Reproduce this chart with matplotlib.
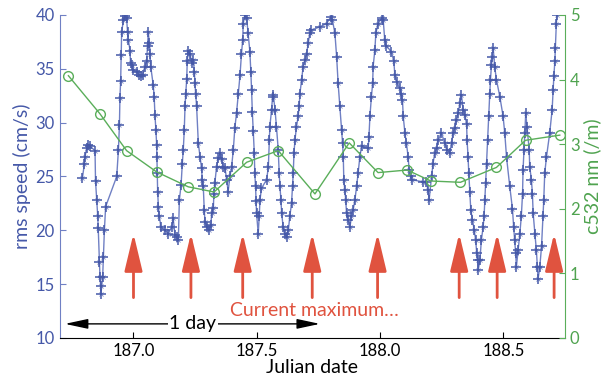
import matplotlib
matplotlib.use("Agg")
import matplotlib.pyplot as plt

plt.rcParams['font.family'] = ['Lato', 'DejaVu Sans']

# rms speed (cm/s) vs Julian date
speed_date = [
    186.793, 186.801, 186.803, 186.810, 186.817, 186.824, 186.844, 186.846, 186.851, 186.855,
    186.857, 186.862, 186.864, 186.867, 186.868, 186.875, 186.878, 186.882, 186.887, 186.932,
    186.939, 186.943, 186.945, 186.948, 186.950, 186.952, 186.959, 186.966, 186.972, 186.976,
    186.979, 186.986, 186.988, 186.993, 186.999, 187.013, 187.024, 187.030, 187.037, 187.047,
    187.053, 187.057, 187.060, 187.064, 187.067, 187.070, 187.080, 187.084, 187.087, 187.091,
    187.094, 187.095, 187.096, 187.098, 187.101, 187.105, 187.111, 187.128, 187.141, 187.155,
    187.161, 187.168, 187.175, 187.182, 187.186, 187.193, 187.198, 187.202, 187.206, 187.209,
    187.212, 187.216, 187.218, 187.222, 187.229, 187.236, 187.243, 187.247, 187.249, 187.252,
    187.256, 187.263, 187.270, 187.276, 187.279, 187.283, 187.287, 187.290, 187.297, 187.307,
    187.314, 187.317, 187.324, 187.326, 187.330, 187.337, 187.344, 187.351, 187.357, 187.364,
    187.371, 187.378, 187.384, 187.391, 187.398, 187.405, 187.411, 187.418, 187.425, 187.432,
    187.438, 187.443, 187.445, 187.452, 187.459, 187.465, 187.472, 187.476, 187.479, 187.482,
    187.486, 187.490, 187.492, 187.495, 187.497, 187.499, 187.506, 187.510, 187.513, 187.519,
    187.540, 187.547, 187.551, 187.553, 187.560, 187.564, 187.567, 187.574, 187.580, 187.587,
    187.591, 187.594, 187.598, 187.601, 187.607, 187.614, 187.621, 187.628, 187.634, 187.641,
    187.645, 187.648, 187.651, 187.655, 187.661, 187.668, 187.672, 187.675, 187.682, 187.688,
    187.695, 187.702, 187.709, 187.715, 187.722, 187.756, 187.783, 187.801, 187.807, 187.817,
    187.824, 187.830, 187.837, 187.844, 187.848, 187.851, 187.853, 187.857, 187.861, 187.864,
    187.871, 187.878, 187.884, 187.891, 187.898, 187.905, 187.911, 187.918, 187.925, 187.952,
    187.955, 187.959, 187.965, 187.970, 187.972, 187.979, 187.983, 187.992, 188.006, 188.013,
    188.019, 188.026, 188.046, 188.056, 188.060, 188.067, 188.080, 188.087, 188.091, 188.094,
    188.101, 188.107, 188.114, 188.118, 188.124, 188.128, 188.175, 188.188, 188.195, 188.199,
    188.209, 188.215, 188.222, 188.229, 188.236, 188.249, 188.263, 188.272, 188.283, 188.290,
    188.296, 188.303, 188.310, 188.317, 188.324, 188.330, 188.337, 188.344, 188.351, 188.353,
    188.357, 188.360, 188.364, 188.368, 188.375, 188.382, 188.388, 188.392, 188.396, 188.398,
    188.405, 188.411, 188.418, 188.422, 188.425, 188.428, 188.432, 188.436, 188.441, 188.445,
    188.448, 188.452, 188.456, 188.459, 188.465, 188.472, 188.486, 188.499, 188.506, 188.513,
    188.526, 188.537, 188.542, 188.546, 188.550, 188.553, 188.560, 188.567, 188.573, 188.578,
    188.580, 188.584, 188.587, 188.591, 188.596, 188.605, 188.607, 188.614, 188.618, 188.621,
    188.628, 188.634, 188.638, 188.641, 188.648, 188.655, 188.661, 188.664, 188.668, 188.675,
    188.688, 188.698, 188.702, 188.705, 188.709, 188.711, 188.715, 188.718,
]
speed_vals = [
    24.9, 26.2, 26.8, 27.6, 27.9, 27.8, 27.4, 24.6, 22.8, 21.3,
    20.2, 17.1, 15.7, 14.8, 14.1, 15.7, 17.5, 20.0, 22.2, 25.0,
    27.5, 29.8, 32.3, 33.9, 36.3, 38.4, 39.5, 39.9, 39.7, 38.4,
    37.7, 36.7, 35.5, 35.4, 34.9, 34.7, 34.4, 34.3, 34.4, 35.2,
    35.7, 37.1, 38.4, 37.4, 36.4, 35.2, 33.5, 32.4, 30.7, 29.3,
    27.9, 26.8, 25.3, 23.6, 22.2, 21.3, 20.3, 20.0, 19.7, 20.3,
    21.1, 19.6, 19.4, 19.1, 22.8, 24.2, 26.2, 27.5, 29.3, 31.5,
    32.7, 34.1, 35.7, 36.7, 36.4, 35.5, 35.8, 34.7, 33.7, 32.7,
    31.5, 28.1, 26.8, 25.8, 24.7, 24.1, 21.9, 20.8, 20.3, 20.0,
    20.5, 21.6, 22.1, 23.4, 24.4, 25.9, 26.7, 27.2, 26.6, 25.9,
    25.8, 24.7, 23.6, 25.0, 25.9, 27.5, 29.5, 30.9, 32.7, 34.4,
    36.4, 37.7, 39.2, 40.0, 39.7, 38.3, 36.6, 34.7, 33.0, 31.0,
    29.2, 27.2, 25.3, 24.1, 22.7, 21.6, 19.7, 21.3, 22.8, 23.9,
    24.7, 25.9, 28.4, 29.6, 31.2, 32.4, 32.6, 31.2, 29.6, 27.5,
    25.3, 24.1, 22.8, 21.6, 20.3, 19.7, 19.4, 20.0, 21.3, 22.5,
    24.1, 25.3, 27.2, 28.4, 29.6, 30.6, 31.5, 32.7, 34.0, 35.2,
    35.8, 36.4, 37.4, 38.3, 38.6, 38.9, 39.2, 39.85, 39.5, 38.3,
    36.1, 33.65, 31.5, 29.3, 28.1, 26.8, 24.7, 23.7, 22.8, 21.6,
    21.0, 20.3, 21.3, 21.9, 22.8, 24.1, 25.3, 26.8, 27.8, 27.6,
    28.7, 30.6, 32.4, 33.65, 35.2, 36.75, 38.3, 39.2, 39.7, 39.5,
    37.7, 37.1, 36.6, 35.7, 34.4, 33.8, 33.2, 32.7, 32.1, 30.6,
    29.0, 28.1, 26.8, 25.6, 25.0, 24.7, 24.5, 24.5, 23.7, 22.8,
    25.0, 26.2, 27.2, 27.6, 28.4, 29.0, 28.1, 27.5, 27.2, 28.1,
    29.0, 29.5, 30.2, 30.9, 31.8, 32.6, 31.2, 30.7, 29.9, 28.4,
    26.8, 25.3, 23.6, 21.9, 21.0, 20.0, 19.1, 17.9, 17.2, 16.3,
    17.2, 19.1, 20.3, 21.3, 22.8, 24.4, 26.2, 28.4, 30.6, 32.7,
    34.0, 35.4, 36.1, 36.9, 35.2, 34.0, 32.4, 30.6, 29.0, 26.8,
    24.1, 22.0, 20.3, 19.1, 17.9, 16.6, 18.2, 19.7, 21.3, 23.4,
    25.6, 27.5, 29.0, 30.9, 29.6, 27.5, 25.9, 24.7, 23.4, 21.6,
    19.7, 18.2, 16.6, 15.5, 16.6, 18.5, 21.3, 22.8, 25.3, 26.8,
    29.0, 31.2, 33.0, 34.3, 35.7, 36.9, 39.2, 40.0,
]

# c532 nm (/m) vs Julian date
c532_date = [186.736, 186.864, 186.972, 187.094, 187.222, 187.327, 187.459, 187.587, 187.736,
             187.875, 187.992, 188.110, 188.206, 188.326, 188.472, 188.590, 188.729]
c532_vals = [4.06, 3.47, 2.90, 2.57, 2.34, 2.26, 2.72, 2.90, 2.23,
             3.02, 2.56, 2.60, 2.43, 2.41, 2.64, 3.06, 3.14]

# current maximum times
current_max = [187.000, 187.233, 187.443, 187.725, 187.990, 188.321, 188.475, 188.706]

x_ticks = [187.0, 187.5, 188.0, 188.5]
x_ticklabels = ["187.0", "187.5", "188.0", "188.5"]
left_ticks = [10, 15, 20, 25, 30, 35, 40]
right_ticks = [0, 1, 2, 3, 4, 5]

BLUE = '#4558A8'
BLUE_LINE = '#7080C4'
GREEN = '#5AAE5A'
GREEN_TXT = '#4FA34F'
RED = '#E0533F'

fig = plt.figure(figsize=(6.08, 3.86), dpi=100)
ax1 = fig.add_axes([0.0979, 0.1244, 0.8313, 0.8368])
ax2 = ax1.twinx()

ax1.plot(speed_date, speed_vals, '-', color=BLUE_LINE, lw=1.0, zorder=2)
ax1.plot(speed_date, speed_vals, '+', color=BLUE, ms=7, mew=1.1, zorder=3)
ax1.plot(speed_date, speed_vals, 'x', color=BLUE, ms=3, mew=0.6, alpha=0.7, zorder=3)

ax2.plot(c532_date, c532_vals, '-o', color=GREEN, lw=1.0, ms=7, mfc='none', mew=1.0)

ax1.set_xlim(186.7, 188.75)
ax1.set_ylim(10, 40)
ax2.set_ylim(0, 5)

ax1.set_xticks(x_ticks)
ax1.set_xticklabels(x_ticklabels)
ax1.set_yticks(left_ticks)
ax2.set_yticks(right_ticks)

for a in (ax1, ax2):
    a.spines['top'].set_visible(False)
ax1.spines['right'].set_visible(False)
ax2.spines['left'].set_visible(False)
ax2.spines['bottom'].set_visible(False)
ax1.spines['left'].set_color(BLUE_LINE)
ax2.spines['right'].set_color(GREEN)
ax1.spines['bottom'].set_color('black')

ax1.tick_params(axis='y', direction='in', colors=BLUE_LINE, labelcolor=BLUE, labelsize=12, length=4)
ax1.tick_params(axis='x', direction='in', colors='black', labelsize=12, length=4)
ax2.tick_params(axis='y', direction='in', colors=GREEN, labelcolor=GREEN_TXT, labelsize=12, length=4)

ax1.set_xlabel('Julian date', fontsize=14, labelpad=0)
ax1.set_ylabel('rms speed (cm/s)', fontsize=14, color=BLUE, labelpad=3)
ax2.set_ylabel('c532 nm (/m)', fontsize=14, color=GREEN_TXT, labelpad=3)

for d in current_max:
    ax2.annotate('', xy=(d, 19.7), xycoords=ax1.transData,
                 xytext=(d, 13.75), textcoords=ax1.transData,
                 arrowprops=dict(arrowstyle='-|>,head_length=2.3,head_width=0.55',
                                 color=RED, lw=2.0, shrinkA=0, shrinkB=0,
                                 mutation_scale=10))

ax2.text(187.391, 12.05, 'Current maximum…', transform=ax1.transData,
         color=RED, fontsize=14, ha='left', va='baseline')

ax2.annotate('', xy=(186.722, 11.31), xycoords=ax1.transData,
             xytext=(187.756, 11.31), textcoords=ax1.transData,
             arrowprops=dict(arrowstyle='<|-|>,head_length=1.4,head_width=0.3',
                             color='black', lw=1.0, shrinkA=0, shrinkB=0,
                             mutation_scale=10))
ax2.text(187.241, 11.31, '1 day', transform=ax1.transData, color='black',
         fontsize=14, ha='center', va='center',
         bbox=dict(facecolor='white', edgecolor='none', pad=1.0))

fig.savefig('out.png', dpi=100)
